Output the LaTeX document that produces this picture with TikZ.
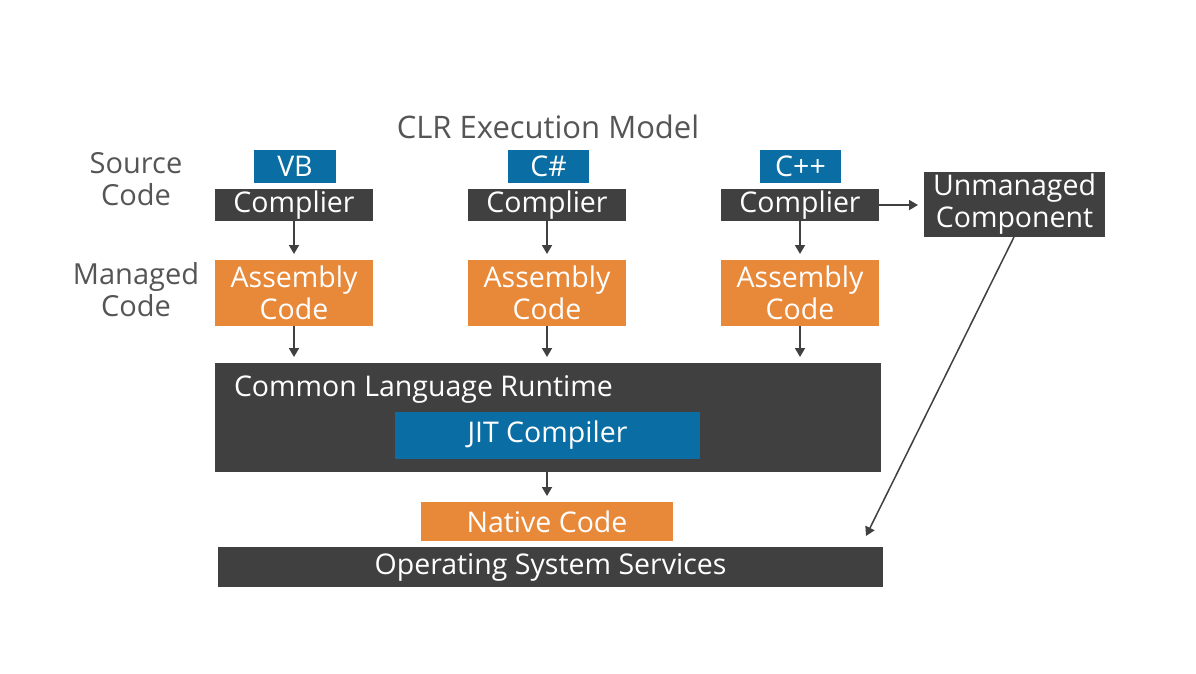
\documentclass[tikz,border=0pt]{standalone}
\usepackage{fontspec}
\setmainfont{Open Sans}
\usetikzlibrary{arrows.meta}
\definecolor{dk}{HTML}{404040}
\definecolor{bl}{HTML}{0A6EA5}
\definecolor{or}{HTML}{E8893A}
\definecolor{tx}{HTML}{555555}
\tikzset{
  box/.style={inner sep=0pt, outer sep=0pt, text=white, font=\fontsize{28.5}{32}\selectfont, align=center, anchor=north west},
  dkbox/.style={box, fill=dk},
  blbox/.style={box, fill=bl},
  orbox/.style={box, fill=or},
  lbl/.style={text=tx, font=\fontsize{29}{32}\selectfont, align=center},
  arr/.style={draw=dk, line width=1.8pt, -{Triangle[length=9pt,width=10pt]}, shorten >=6pt},
}
\begin{document}
\begin{tikzpicture}[x=1pt,y=-1pt]
\useasboundingbox[fill=white] (0,0) rectangle (1196,673);
\node[lbl, font=\fontsize{31}{36}\selectfont] (title) at (548,127) {CLR Execution Model};
\node[lbl] (src) at (136,179) {Source\\Code};
\node[lbl] (mgd) at (136,290) {Managed\\Code};
% languages
\node[blbox, minimum width=82pt, minimum height=33pt] (vb) at (254,150) {VB};
\node[blbox, minimum width=81pt, minimum height=33pt] (cs) at (508,150) {C\#};
\node[blbox, minimum width=81pt, minimum height=33pt] (cpp) at (760,150) {C++};
% compilers
\node[dkbox, minimum width=158pt, minimum height=32pt] (c1) at (215,189) {Complier};
\node[dkbox, minimum width=158pt, minimum height=32pt] (c2) at (468,189) {Complier};
\node[dkbox, minimum width=158pt, minimum height=32pt] (c3) at (721,189) {Complier};
% assemblies
\node[orbox, minimum width=158pt, minimum height=66pt] (a1) at (215,260) {Assembly\\Code};
\node[orbox, minimum width=158pt, minimum height=66pt] (a2) at (468,260) {Assembly\\Code};
\node[orbox, minimum width=158pt, minimum height=66pt] (a3) at (721,260) {Assembly\\Code};
% unmanaged
\node[dkbox, minimum width=181pt, minimum height=65pt] (um) at (924,172) {Unmanaged\\Component};
% CLR
\node[dkbox, minimum width=666pt, minimum height=109pt] (clr) at (215,363) {};
\node[box, anchor=west] (clrt) at (234,389) {Common Language Runtime};
\node[blbox, minimum width=305pt, minimum height=47pt] (jit) at (395,412) {JIT Compiler};
% native
\node[orbox, minimum width=252pt, minimum height=39pt] (nat) at (421,502) {Native Code};
% OS
\node[dkbox, minimum width=665pt, minimum height=40pt] (os) at (218,547) {Operating System Services};
% arrows
\draw[arr] (c1.south) -- (a1.north);
\draw[arr] (c2.south) -- (a2.north);
\draw[arr] (c3.south) -- (a3.north);
\draw[arr] (a1.south) -- (a1.south |- clr.north);
\draw[arr] (a2.south) -- (a2.south |- clr.north);
\draw[arr] (a3.south) -- (a3.south |- clr.north);
\draw[arr] (clr.south -| nat.north) -- (nat.north);
\draw[arr] (c3.east) -- (c3.east -| um.west);
\coordinate (ostarget) at (866,536);
\draw[arr, line width=1.5pt, shorten >=0pt] (1014,237) -- (ostarget);
\end{tikzpicture}
\end{document}
